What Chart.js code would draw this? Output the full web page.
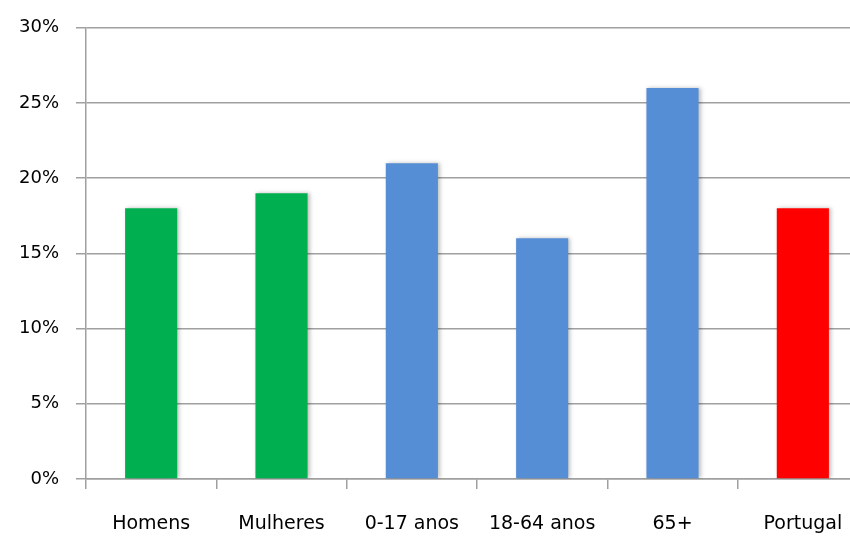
<!DOCTYPE html>
<html>
<head>
<meta charset="utf-8">
<script src="https://cdn.jsdelivr.net/npm/chart.js@4/dist/chart.umd.min.js"></script>
<style>
  html, body { margin: 0; padding: 0; background: #fff; overflow: hidden; }
  #wrap { width: 868px; height: 536px; }
</style>
</head>
<body>
<div id="wrap"><canvas id="taxa-pobreza" width="868" height="536"></canvas></div>
<script>
// Categories and values (percent)
const categories = ['Homens', 'Mulheres', '0-17 anos', '18-64 anos', '65+', 'Portugal'];
const values = [18, 19, 21, 16, 26, 18];
const barColors = ['#00B050', '#00B050', '#558ED5', '#558ED5', '#558ED5', '#FF0000'];
const yTicks = [0, 5, 10, 15, 20, 25, 30];

(function () {
    const canvasElement = document.getElementById('taxa-pobreza');
    const xFont = { family: '"DejaVu Sans", sans-serif', size: 19 };
    const yFont = { family: '"DejaVu Sans", sans-serif', size: 18 };

    // Soft shadow to the right of each bar
    const barShadow = {
        id: 'barShadow',
        beforeDatasetDraw(chart) {
            const ctx = chart.ctx;
            ctx.save();
            ctx.shadowColor = 'rgba(0,0,0,0.25)';
            ctx.shadowBlur = 4;
            ctx.shadowOffsetX = 2;
        },
        afterDatasetDraw(chart) {
            chart.ctx.restore();
        }
    };

    new Chart(canvasElement, {
        type: 'bar',
        data: {
            labels: categories,
            datasets: [{
                data: values,
                backgroundColor: barColors,
                borderWidth: 0,
                categoryPercentage: 1.0,
                barPercentage: 0.4
            }]
        },
        options: {
            responsive: false,
            animation: false,
            layout: { padding: { top: 26, right: 0, left: 0, bottom: 0 } },
            plugins: {
                legend: { display: false },
                tooltip: { enabled: false }
            },
            scales: {
                x: {
                    offset: true,
                    grid: {
                        offset: true,
                        drawOnChartArea: false,
                        drawTicks: true,
                        tickLength: 10,
                        color: '#A0A0A0',
                        lineWidth: 1.5
                    },
                    border: { color: '#A0A0A0', width: 1.5 },
                    ticks: {
                        color: '#000',
                        font: xFont,
                        padding: 24,
                        maxRotation: 0,
                        autoSkip: false
                    },
                    afterFit(scale) { scale.height = 57; }
                },
                y: {
                    min: 0,
                    max: 30,
                    afterBuildTicks(scale) {
                        scale.ticks = yTicks.map(v => ({ value: v }));
                    },
                    grid: {
                        color: '#A0A0A0',
                        lineWidth: 1.5,
                        tickLength: 10
                    },
                    border: { color: '#A0A0A0', width: 1.5 },
                    ticks: {
                        color: '#000',
                        font: yFont,
                        padding: 17,
                        callback: v => v + '%'
                    },
                    afterFit(scale) { scale.width = 86; }
                }
            }
        },
        plugins: [barShadow]
    });
})();
</script>
</body>
</html>
